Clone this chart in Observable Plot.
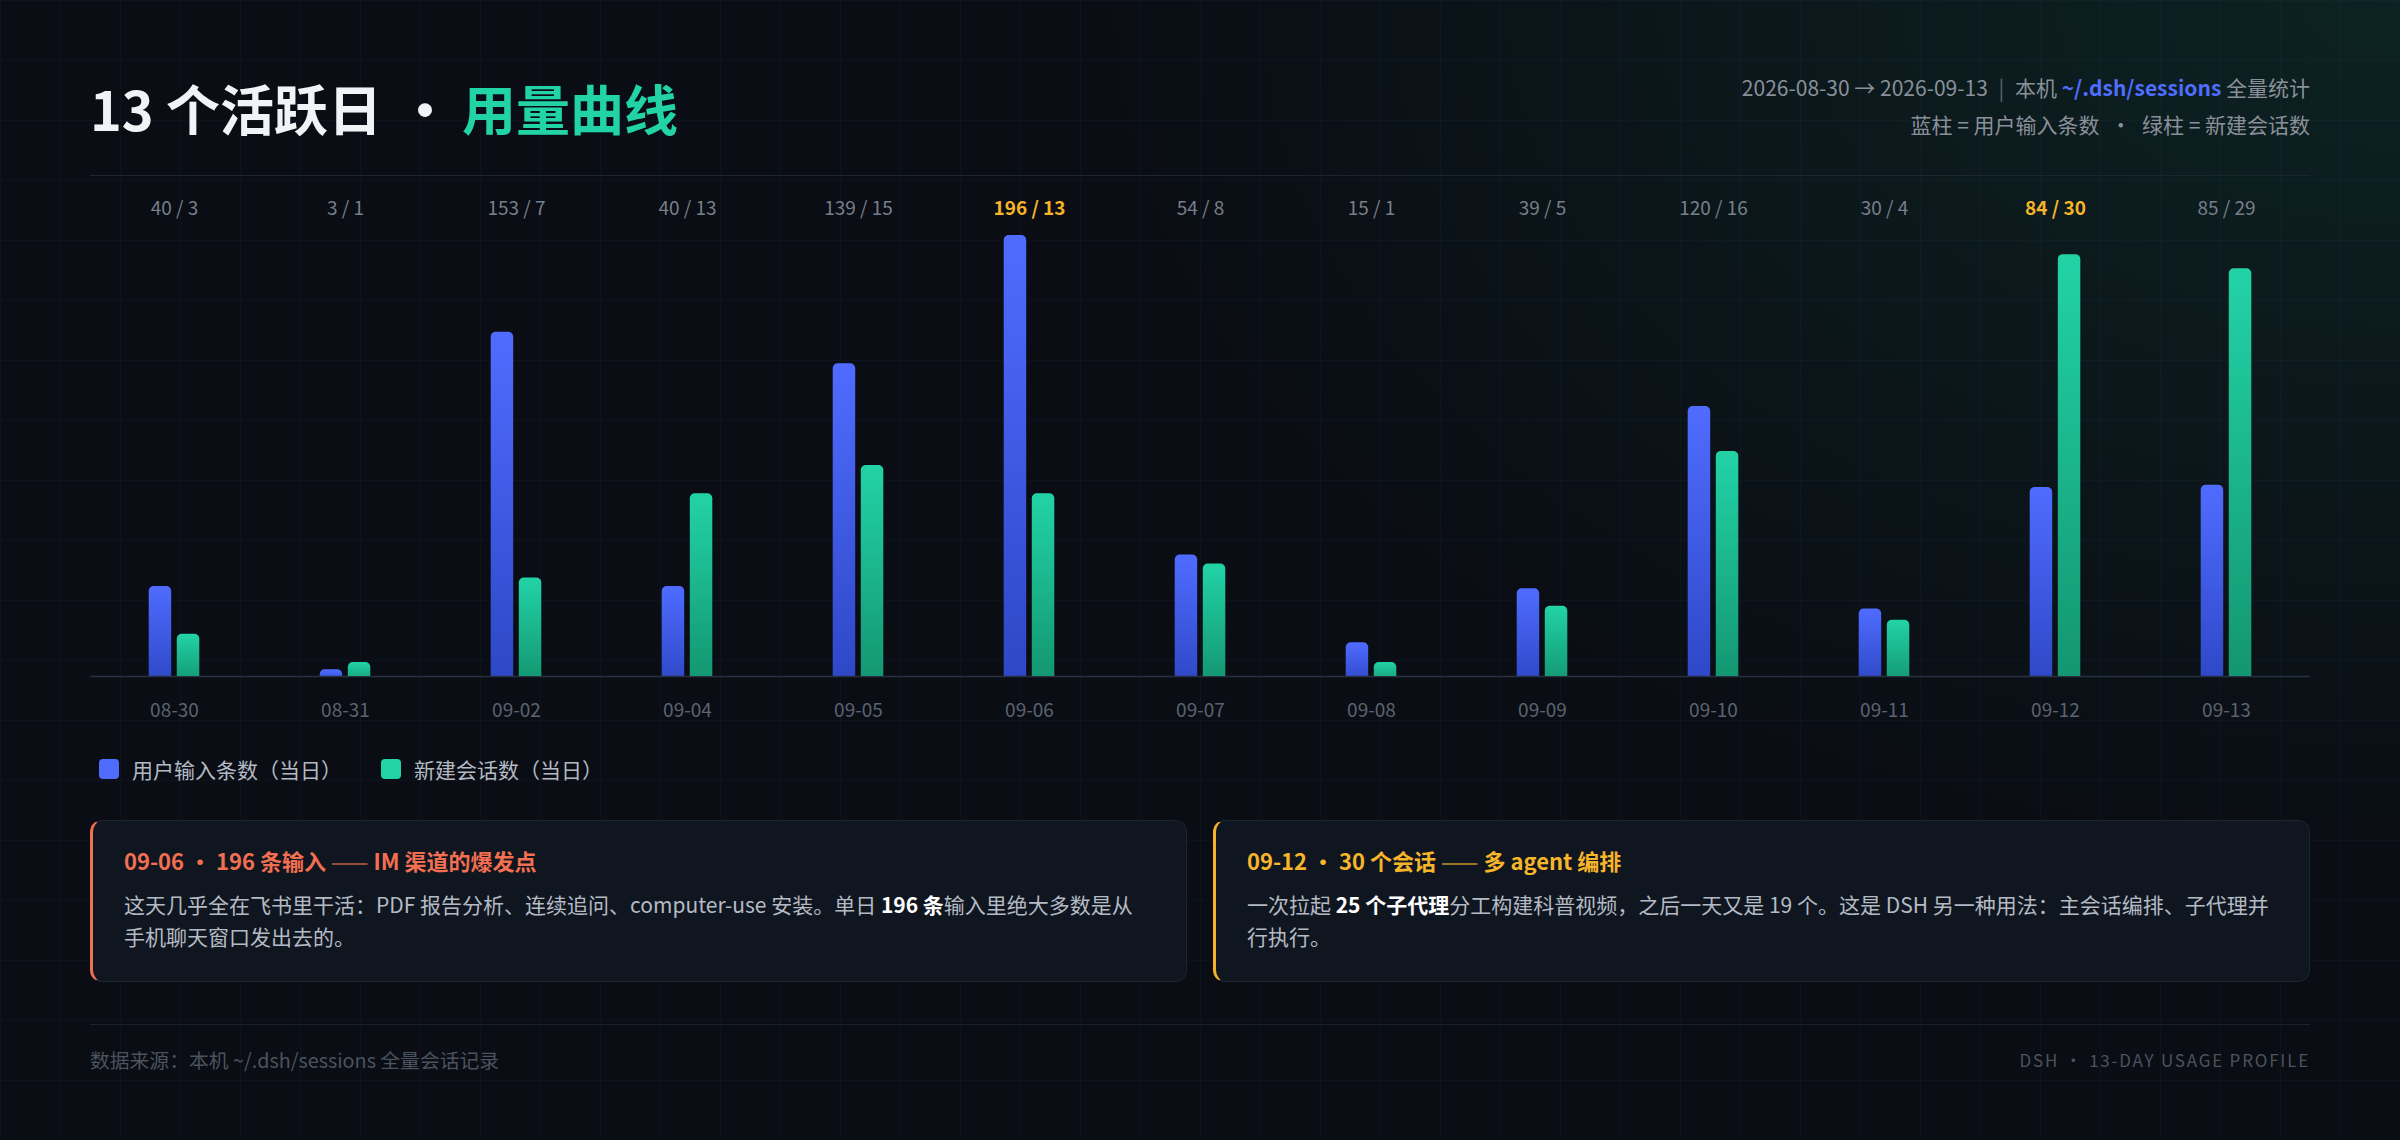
<!DOCTYPE html>
<html>
<head>
<meta charset="utf-8">
<script src="https://cdn.jsdelivr.net/npm/d3@7"></script>
<script src="https://cdn.jsdelivr.net/npm/@observablehq/plot@0.6"></script>
<style>
  html, body { margin: 0; padding: 0; }
  body {
    width: 2400px; height: 1140px; overflow: hidden; background: #0a0d14;
    font-family: "Noto Sans CJK SC", "Noto Sans", sans-serif;
  }
  #page {
    position: relative; width: 2400px; height: 1140px;
    background-image:
      radial-gradient(ellipse 1300px 850px at 100% 0%, rgba(22,110,84,0.22), rgba(22,110,84,0) 100%),
      linear-gradient(rgba(70,90,160,0.07) 1px, transparent 1px),
      linear-gradient(90deg, rgba(70,90,160,0.07) 1px, transparent 1px);
    background-size: 100% 100%, 60px 60px, 60px 60px;
  }
  .abs { position: absolute; }
  #title { left: 90px; top: 81px; font-size: 54px; line-height: 54px; font-weight: 700; color: #f1f3f6; white-space: nowrap; }
  #title .dot { display: inline-block; margin: 0 10px 0 16px; }
  #title .hl { color: #22d3a6; }
  #meta { right: 90px; top: 69px; text-align: right; font-size: 21px; line-height: 37px; color: #89909a; white-space: nowrap; }
  #meta .path { color: #4f6dff; font-weight: 700; }
  #meta .sep { margin: 0 6px; color: #5d6470; }
  #meta .dot { margin: 0 6px; }
  #toprule { left: 90px; top: 175px; width: 2220px; height: 1px; background: #1d2531; }
  #chart { left: 0; top: 176px; width: 2400px; height: 580px; }
  #chart svg { position: absolute; left: 0; top: 0; }
  #legend { left: 99px; top: 759px; height: 20px; display: flex; align-items: center; font-size: 21px; color: #b3bac4; white-space: nowrap; }
  #legend .sw { width: 20px; height: 20px; border-radius: 4px; margin-right: 13px; }
  #legend .item { display: flex; align-items: center; margin-right: 39px; }
  .card {
    top: 820px; height: 162px; width: 1097px; box-sizing: border-box;
    background: #10161f; border: 1px solid #1d2631; border-radius: 12px;
    padding: 24px 30px 0 31px; white-space: nowrap;
  }
  #card1 { left: 90px; border-left: 3px solid #f0704f; }
  #card2 { left: 1213px; border-left: 3px solid #f4b229; }
  .card .ttl { font-size: 22px; line-height: 30px; font-weight: 700; }
  #card1 .ttl { color: #f26f52; }
  #card2 .ttl { color: #f6b52a; }
  .card .ttl .dash { opacity: 0.6; }
  .card .body { margin-top: 13px; font-size: 21px; line-height: 32px; color: #b4bbc5; }
  .card .body b { color: #ffffff; font-weight: 700; }
  #footrule { left: 90px; top: 1024px; width: 2220px; height: 1px; background: #18212c; }
  #footl { left: 90px; top: 1046px; font-size: 19.8px; line-height: 28px; color: #4b535e; white-space: nowrap; }
  #footr { right: 90px; top: 1046px; font-size: 17px; line-height: 28px; color: #4b535e; letter-spacing: 1.8px; white-space: nowrap; }
</style>
</head>
<body>
<div id="page">
  <div id="title" class="abs">13 个活跃日<span class="dot">·</span><span class="hl">用量曲线</span></div>
  <div id="meta" class="abs">
    <div>2026-08-30 → 2026-09-13 <span class="sep">|</span> 本机 <span class="path">~/.dsh/sessions</span> 全量统计</div>
    <div>蓝柱 = 用户输入条数 <span class="dot">·</span> 绿柱 = 新建会话数</div>
  </div>
  <div id="toprule" class="abs"></div>
  <div id="chart" class="abs"></div>
  <div id="legend" class="abs"></div>
  <div id="card1" class="abs card">
    <div class="ttl">09-06 · 196 条输入 <span class="dash">——</span> IM 渠道的爆发点</div>
    <div class="body">这天几乎全在飞书里干活：PDF 报告分析、连续追问、computer-use 安装。单日 <b>196 条</b>输入里绝大多数是从<br>手机聊天窗口发出去的。</div>
  </div>
  <div id="card2" class="abs card">
    <div class="ttl">09-12 · 30 个会话 <span class="dash">——</span> 多 agent 编排</div>
    <div class="body">一次拉起 <b>25 个子代理</b>分工构建科普视频，之后一天又是 19 个。这是 DSH 另一种用法：主会话编排、子代理并<br>行执行。</div>
  </div>
  <div id="footrule" class="abs"></div>
  <div id="footl" class="abs">数据来源：本机 ~/.dsh/sessions 全量会话记录</div>
  <div id="footr" class="abs">DSH · 13-DAY USAGE PROFILE</div>
</div>
<script>
// ---- data ----
const days = ["08-30","08-31","09-02","09-04","09-05","09-06","09-07","09-08","09-09","09-10","09-11","09-12","09-13"];
const inputs = [40, 3, 153, 40, 139, 196, 54, 15, 39, 120, 30, 84, 85];
const sessions = [3, 1, 7, 13, 15, 13, 8, 1, 5, 16, 4, 30, 29];
const highlightDays = ["09-06", "09-12"];
const seriesNames = ["用户输入条数（当日）", "新建会话数（当日）"];
const seriesColors = ["#4f6cff", "#22d3a6"];

const rows = days.map((d, i) => ({day: d, input: inputs[i], session: sessions[i], hot: highlightDays.includes(d)}));

const FONT = '"Noto Sans CJK SC", "Noto Sans", sans-serif';
const xScale = {domain: days, padding: 0, round: false, range: [88.5, 2311.5]};
const common = {
  width: 2400, height: 580,
  marginLeft: 90, marginRight: 90, marginTop: 50, marginBottom: 80,
  style: {background: "transparent", fontFamily: FONT, overflow: "visible"}
};

function gradDefs(id, top, bottom) {
  return () => {
    const defs = d3.create("svg:defs");
    const g = defs.append("linearGradient").attr("id", id)
      .attr("x1", 0).attr("y1", 0).attr("x2", 0).attr("y2", 1);
    g.append("stop").attr("offset", "0%").attr("stop-color", top);
    g.append("stop").attr("offset", "100%").attr("stop-color", bottom);
    return defs.node();
  };
}

const label = r => `${r.input} / ${r.session}`;

const bluePlot = Plot.plot({
  ...common,
  x: xScale,
  y: {domain: [0, 200], axis: null},
  marks: [
    gradDefs("gBlue", "#4f6cff", "#2e47c6"),
    Plot.barY(rows, {x: "day", y: "input", fill: "url(#gBlue)", insetLeft: 60.2, insetRight: 88.3, insetBottom: -8, rx: 5, clip: "frame"}),
    Plot.ruleY([0], {stroke: "#263142", strokeWidth: 1.5}),
    Plot.axisX({tickSize: 0, tickPadding: 27, fontSize: 19, fill: "#5b6370", label: null}),
    Plot.text(rows.filter(r => !r.hot), {x: "day", text: label, frameAnchor: "top", dy: -25, fill: "#777f8a", fontSize: 19}),
    Plot.text(rows.filter(r => r.hot), {x: "day", text: label, frameAnchor: "top", dy: -25, fill: "#f5b428", fontSize: 19, fontWeight: 700})
  ]
});

const greenPlot = Plot.plot({
  ...common,
  x: {...xScale, axis: null},
  y: {domain: [0, 32], axis: null},
  marks: [
    gradDefs("gGreen", "#22d3a6", "#139570"),
    Plot.barY(rows, {x: "day", y: "session", fill: "url(#gGreen)", insetLeft: 88.3, insetRight: 60.2, insetBottom: -8, rx: 5, clip: "frame"})
  ]
});

const chart = document.getElementById("chart");
chart.appendChild(bluePlot);
chart.appendChild(greenPlot);

// legend
const legend = document.getElementById("legend");
seriesNames.forEach((name, i) => {
  const item = document.createElement("div");
  item.className = "item";
  const sw = document.createElement("div");
  sw.className = "sw";
  sw.style.background = seriesColors[i];
  const t = document.createElement("span");
  t.textContent = name;
  item.appendChild(sw); item.appendChild(t);
  legend.appendChild(item);
});
</script>
</body>
</html>
